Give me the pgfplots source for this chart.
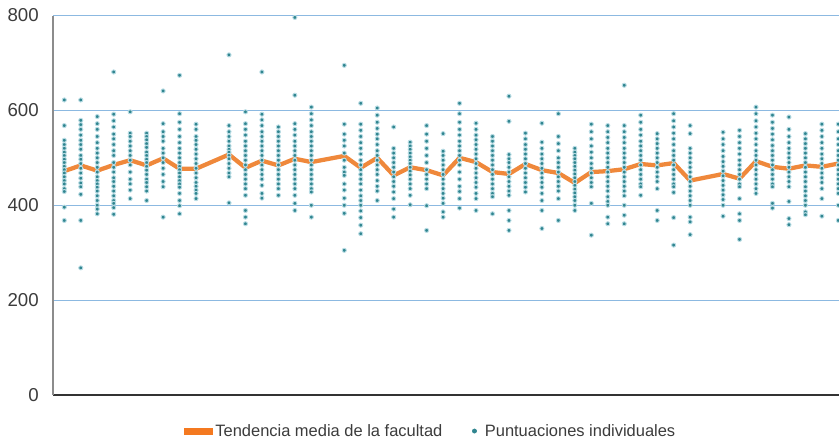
\documentclass[border=0pt]{standalone}
\usepackage{pgfplots}
\pgfplotsset{compat=1.18}
\usepackage{fontspec}
\setmainfont{Liberation Sans}
\definecolor{gridblue}{RGB}{140,185,225}
\definecolor{dotteal}{RGB}{48,133,143}
\definecolor{halo}{RGB}{185,220,228}
\definecolor{trendorange}{RGB}{238,126,42}
\definecolor{legorange}{RGB}{244,121,32}
\definecolor{txt}{RGB}{60,60,60}
\begin{document}
\begin{tikzpicture}
\useasboundingbox (-39.75pt,-34.5pt) rectangle (589.5pt,296.25pt);
\begin{axis}[
  at={(0,0)}, anchor=south west,
  width=589.5pt, height=284.6pt, scale only axis,
  xmin=-0.686, xmax=47.04, ymin=0, ymax=800,
  axis lines*=left,
  x axis line style={draw=black!80, line width=0.9pt},
  y axis line style={draw=black!45, line width=0.9pt},
  xtick=\empty,
  ytick={0,200,400,600,800},
  major tick length=0pt,
  ymajorgrids, grid style={draw=gridblue, line width=0.8pt},
  /pgf/number format/assume math mode=true,
  yticklabel style={font=\fontsize{14}{16}\selectfont, text=txt, inner sep=0pt, xshift=-10.5pt},
  legend columns=2,
  legend style={draw=none, fill=none, at={(0.481,-0.095)}, anchor=center,
    font=\fontsize{12.35}{14}\selectfont, text=txt,
    /tikz/every even column/.append style={column sep=20.25pt}},
]
\addlegendimage{legend image code/.code={\fill[legorange] (-1.5pt,-2.25pt) rectangle (19.5pt,2.25pt);}}
\addlegendentry{Tendencia media de la facultad}
\addlegendimage{legend image code/.code={\fill[dotteal] (0pt,0pt) circle (1.6pt); \path[draw=none,fill=none] (0pt,-0.1pt) rectangle (5.8pt,0.1pt);}}
\addlegendentry{Puntuaciones individuales}

\addplot[only marks, mark=*, mark size=1.55pt, forget plot,
  mark options={fill=dotteal, draw=halo, line width=0.7pt}] coordinates {
(0,622)(0,568)(0,537)(0,528)(0,520)(0,512)(0,505)(0,497)(0,490)(0,482)(0,475)(0,468)(0,460)(0,452)(0,445)(0,435)(0,429)(0,396)(0,368)
(1,622)(1,579)(1,570)(1,560)(1,548)(1,537)(1,528)(1,518)(1,505)(1,497)(1,488)(1,478)(1,468)(1,457)(1,447)(1,439)(1,423)(1,368)(1,268)
(2,587)(2,572)(2,560)(2,545)(2,532)(2,520)(2,510)(2,500)(2,490)(2,480)(2,470)(2,460)(2,452)(2,445)(2,438)(2,430)(2,420)(2,410)(2,400)(2,392)(2,382)
(3,681)(3,592)(3,578)(3,565)(3,550)(3,540)(3,528)(3,515)(3,505)(3,490)(3,480)(3,470)(3,458)(3,450)(3,440)(3,430)(3,420)(3,410)(3,404)(3,395)(3,381)
(4,597)(4,552)(4,545)(4,535)(4,525)(4,515)(4,505)(4,495)(4,485)(4,470)(4,455)(4,445)(4,432)(4,414)
(5,552)(5,545)(5,538)(5,530)(5,522)(5,512)(5,505)(5,497)(5,490)(5,482)(5,474)(5,465)(5,455)(5,448)(5,439)(5,430)(5,410)
(6,641)(6,572)(6,555)(6,545)(6,535)(6,520)(6,510)(6,500)(6,490)(6,478)(6,465)(6,450)(6,439)(6,375)
(7,674)(7,593)(7,575)(7,560)(7,545)(7,532)(7,520)(7,510)(7,500)(7,490)(7,482)(7,475)(7,468)(7,460)(7,452)(7,445)(7,438)(7,425)(7,410)(7,399)(7,382)
(8,571)(8,560)(8,545)(8,537)(8,528)(8,518)(8,508)(8,498)(8,488)(8,478)(8,468)(8,458)(8,448)(8,440)(8,432)(8,425)(8,414)
(10,717)(10,568)(10,555)(10,545)(10,535)(10,525)(10,518)(10,512)(10,505)(10,498)(10,488)(10,478)(10,468)(10,460)(10,405)
(11,597)(11,572)(11,560)(11,548)(11,535)(11,525)(11,515)(11,505)(11,495)(11,485)(11,475)(11,465)(11,455)(11,445)(11,435)(11,421)(11,389)(11,375)(11,361)
(12,681)(12,592)(12,580)(12,568)(12,555)(12,545)(12,535)(12,525)(12,515)(12,505)(12,495)(12,485)(12,475)(12,465)(12,455)(12,442)(12,425)(12,415)
(13,565)(13,555)(13,545)(13,535)(13,525)(13,515)(13,505)(13,495)(13,485)(13,475)(13,465)(13,455)(13,445)(13,435)(13,421)
(14,796)(14,632)(14,572)(14,560)(14,548)(14,535)(14,525)(14,515)(14,505)(14,495)(14,485)(14,475)(14,465)(14,455)(14,445)(14,435)(14,421)(14,404)(14,389)
(15,607)(15,593)(15,580)(15,568)(15,555)(15,545)(15,535)(15,525)(15,515)(15,505)(15,495)(15,485)(15,475)(15,465)(15,455)(15,445)(15,435)(15,428)(15,400)(15,375)
(17,695)(17,571)(17,550)(17,537)(17,525)(17,510)(17,495)(17,480)(17,470)(17,463)(17,445)(17,432)(17,415)(17,400)(17,383)(17,305)
(18,615)(18,571)(18,558)(18,545)(18,532)(18,520)(18,508)(18,495)(18,485)(18,475)(18,465)(18,455)(18,445)(18,432)(18,420)(18,410)(18,400)(18,388)(18,374)(18,358)(18,340)
(19,605)(19,590)(19,575)(19,562)(19,550)(19,540)(19,528)(19,515)(19,505)(19,495)(19,485)(19,475)(19,465)(19,452)(19,440)(19,430)(19,410)
(20,565)(20,520)(20,510)(20,500)(20,490)(20,480)(20,470)(20,460)(20,450)(20,440)(20,428)(20,414)(20,392)(20,375)
(21,533)(21,525)(21,518)(21,510)(21,502)(21,495)(21,488)(21,480)(21,472)(21,464)(21,455)(21,445)(21,435)(21,421)(21,401)
(22,568)(22,550)(22,535)(22,520)(22,505)(22,490)(22,475)(22,465)(22,455)(22,445)(22,435)(22,399)(22,347)
(23,551)(23,514)(23,505)(23,495)(23,485)(23,475)(23,465)(23,455)(23,445)(23,435)(23,425)(23,415)(23,404)(23,386)(23,375)
(24,615)(24,593)(24,575)(24,560)(24,548)(24,535)(24,525)(24,515)(24,505)(24,495)(24,485)(24,470)(24,455)(24,440)(24,429)(24,414)(24,394)
(25,573)(25,560)(25,548)(25,538)(25,528)(25,518)(25,508)(25,498)(25,488)(25,478)(25,468)(25,458)(25,448)(25,438)(25,425)(25,414)(25,389)
(26,545)(26,535)(26,525)(26,515)(26,505)(26,495)(26,485)(26,475)(26,465)(26,455)(26,445)(26,435)(26,425)(26,418)(26,382)
(27,630)(27,577)(27,507)(27,498)(27,490)(27,480)(27,470)(27,460)(27,450)(27,440)(27,430)(27,421)(27,389)(27,368)(27,347)
(28,552)(28,540)(28,528)(28,518)(28,508)(28,498)(28,488)(28,478)(28,468)(28,458)(28,448)(28,438)(28,428)
(29,573)(29,533)(29,520)(29,508)(29,498)(29,488)(29,478)(29,468)(29,458)(29,448)(29,438)(29,425)(29,410)(29,389)(29,351)
(30,593)(30,545)(30,530)(30,515)(30,500)(30,490)(30,480)(30,470)(30,460)(30,450)(30,440)(30,430)(30,414)(30,368)
(31,520)(31,512)(31,505)(31,498)(31,490)(31,482)(31,474)(31,466)(31,458)(31,450)(31,442)(31,434)(31,426)(31,418)(31,410)(31,400)(31,389)
(32,571)(32,555)(32,540)(32,525)(32,512)(32,500)(32,488)(32,478)(32,468)(32,458)(32,448)(32,439)(32,404)(32,337)
(33,568)(33,555)(33,543)(33,532)(33,520)(33,510)(33,500)(33,490)(33,480)(33,470)(33,460)(33,450)(33,440)(33,430)(33,418)(33,408)(33,400)(33,375)(33,361)
(34,653)(34,568)(34,555)(34,543)(34,532)(34,520)(34,510)(34,500)(34,490)(34,480)(34,470)(34,460)(34,450)(34,440)(34,430)(34,420)(34,400)(34,379)(34,361)
(35,590)(35,575)(35,560)(35,548)(35,535)(35,525)(35,515)(35,505)(35,495)(35,485)(35,475)(35,465)(35,455)(35,445)(35,439)(35,421)
(36,551)(36,540)(36,530)(36,520)(36,510)(36,500)(36,490)(36,480)(36,470)(36,460)(36,450)(36,435)(36,389)(36,368)
(37,593)(37,578)(37,565)(37,552)(37,540)(37,528)(37,515)(37,505)(37,495)(37,485)(37,475)(37,465)(37,455)(37,445)(37,439)(37,427)(37,374)(37,316)
(38,568)(38,551)(38,520)(38,510)(38,500)(38,490)(38,480)(38,470)(38,460)(38,450)(38,440)(38,430)(38,420)(38,410)(38,400)(38,375)(38,365)(38,338)
(40,554)(40,540)(40,528)(40,515)(40,503)(40,492)(40,482)(40,472)(40,462)(40,452)(40,442)(40,432)(40,422)(40,412)(40,400)(40,377)
(41,558)(41,545)(41,532)(41,520)(41,508)(41,495)(41,485)(41,475)(41,465)(41,455)(41,445)(41,439)(41,414)(41,382)(41,368)(41,328)
(42,607)(42,593)(42,578)(42,565)(42,552)(42,540)(42,528)(42,515)(42,505)(42,495)(42,485)(42,475)(42,465)(42,455)(42,445)(42,435)(42,425)
(43,590)(43,575)(43,562)(43,550)(43,538)(43,526)(43,515)(43,505)(43,495)(43,485)(43,475)(43,465)(43,455)(43,445)(43,439)(43,404)(43,394)
(44,586)(44,560)(44,545)(44,532)(44,520)(44,510)(44,500)(44,490)(44,480)(44,470)(44,460)(44,450)(44,439)(44,408)(44,372)(44,359)
(45,551)(45,540)(45,530)(45,520)(45,510)(45,500)(45,490)(45,480)(45,470)(45,460)(45,450)(45,439)(45,430)(45,420)(45,410)(45,400)(45,386)(45,380)
(46,571)(46,558)(46,545)(46,532)(46,520)(46,508)(46,498)(46,488)(46,478)(46,468)(46,458)(46,448)(46,435)(46,414)(46,377)
(47,571)(47,555)(47,540)(47,528)(47,515)(47,505)(47,495)(47,485)(47,475)(47,465)(47,455)(47,445)(47,435)(47,425)(47,400)(47,368)
};

\addplot[trendorange, line width=3.2pt, line join=round, opacity=0.92, forget plot] coordinates {
(0,472)(1,484)(2,473)(3,485)(4,495)(5,484)(6,499)(7,477)(8,477)
(10,507)(11,479)(12,494)(13,484)(14,498)(15,491)
(17,504)(18,479)(19,500)(20,463)(21,480)(22,474)(23,463)(24,500)(25,491)(26,470)(27,466)(28,487)(29,474)(30,468)
(31,447)(32,470)(33,472)(34,476)(35,487)(36,484)(37,489)(38,452)
(40,466)(41,456)(42,493)(43,481)(44,477)(45,484)(46,481)(47,488)
};
\end{axis}
\end{tikzpicture}
\end{document}
